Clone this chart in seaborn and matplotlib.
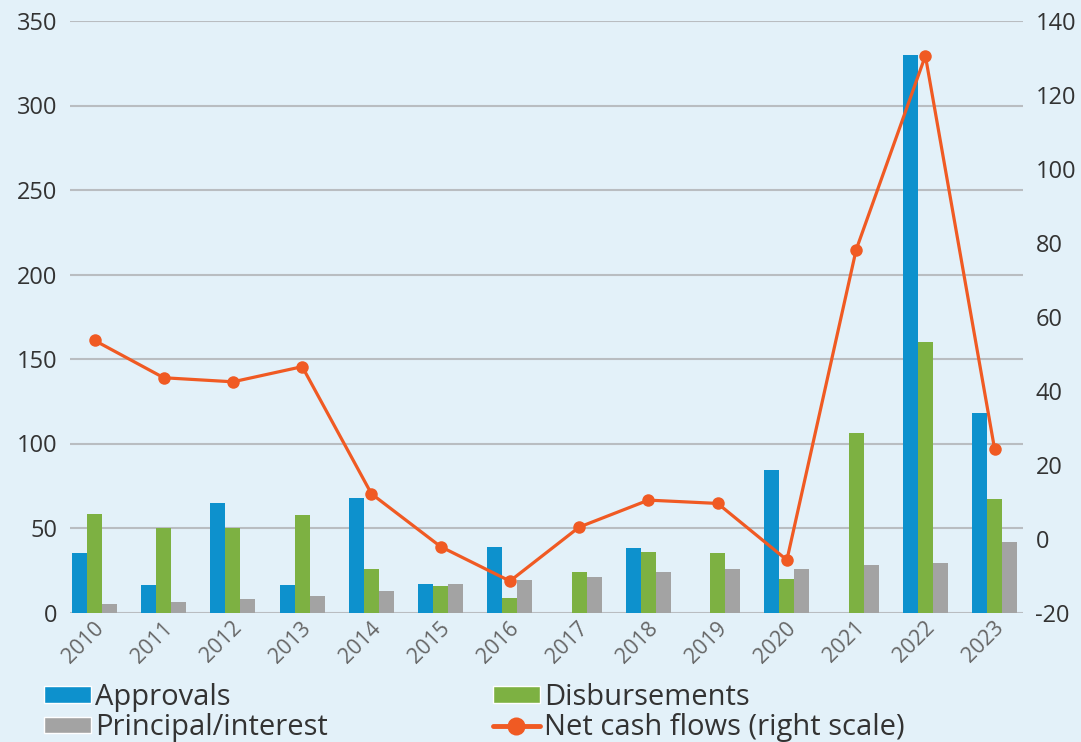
import numpy as np
import pandas as pd
import matplotlib
matplotlib.use("Agg")
import matplotlib.pyplot as plt
import matplotlib.transforms as mtransforms
import seaborn as sns
from matplotlib.patches import Patch
from matplotlib.lines import Line2D

# ---- data ----
years = [str(y) for y in range(2010, 2024)]
approvals = [35, 16, 64.5, 16.5, 68, 17, 39, np.nan, 38, np.nan, 84.5, np.nan, 330, 118]
disbursements = [58.5, 50, 50, 57.5, 25.5, 15.5, 8.5, 24, 36, 35.5, 20, 106, 160, 67]
principal = [5, 6, 8, 10, 12.5, 17, 19, 21, 24, 25.5, 25.5, 28, 29.5, 42]
net_cash = [53.6, 43.5, 42.4, 46.5, 12.1, -2.2, -11.5, 3.1, 10.4, 9.5, -5.8, 78.1, 130.6, 24.2]

series_names = ["Approvals", "Disbursements", "Principal/interest"]
net_label = "Net cash flows (right scale)"
left_ticks = [0, 50, 100, 150, 200, 250, 300, 350]
right_ticks = [-20, 0, 20, 40, 60, 80, 100, 120, 140]

# ---- styling ----
BG = "#e3f1f9"
BLUE = "#0d91cd"
GREEN = "#7db142"
GRAY = "#a3a3a3"
ORANGE = "#f05a23"
GRID = "#b9bdc1"
TXT = "#333333"

sns.set_theme(style="white")
plt.rcParams["font.family"] = ["Open Sans", "DejaVu Sans"]
plt.rcParams["axes.unicode_minus"] = False

df = pd.DataFrame({
    "year": years * 3,
    "series": sum([[s] * len(years) for s in series_names], []),
    "value": approvals + disbursements + principal,
})

W, H = 1081, 742
fig = plt.figure(figsize=(W / 100, H / 100), dpi=100, facecolor=BG)
ax = fig.add_axes([70 / W, (H - 612.5) / H, (1023 - 70) / W, (612.5 - 21) / H])
ax.set_facecolor(BG)

palette = {"Approvals": BLUE, "Disbursements": GREEN, "Principal/interest": GRAY}
sns.barplot(data=df, x="year", y="value", hue="series", hue_order=series_names,
            order=years, palette=palette, width=0.65, gap=0, saturation=1,
            legend=False, ax=ax, linewidth=0)

ax.set_ylim(0, 350)
ax.set_yticks(left_ticks)
ax.set_xlim(-0.354, 13.41)
ax.set_axisbelow(True)
ax.yaxis.grid(True, color=GRID, linewidth=1.5)
ax.xaxis.grid(False)
for s in ax.spines.values():
    s.set_visible(False)
ax.set_xlabel("")
ax.set_ylabel("")
ax.tick_params(axis="y", length=0, pad=9, labelsize=17, labelcolor=TXT)
ax.tick_params(axis="x", length=0, pad=9, labelsize=15.5, labelcolor="#666666")
shift = mtransforms.ScaledTranslation(0.06, 0, fig.dpi_scale_trans)
for lab in ax.get_xticklabels():
    lab.set_rotation(45)
    lab.set_ha("right")
    lab.set_va("center")
    lab.set_rotation_mode("anchor")
    lab.set_transform(lab.get_transform() + shift)

ax2 = ax.twinx()
sns.lineplot(x=np.arange(len(years)), y=net_cash, ax=ax2, color=ORANGE,
             linewidth=2.3, marker="o", markersize=9, markeredgewidth=0)
ax2.set_ylim(-20, 140)
ax2.set_yticks(right_ticks)
ax2.grid(False)
for s in ax2.spines.values():
    s.set_visible(False)
ax2.tick_params(axis="y", length=0, pad=9, labelsize=17, labelcolor=TXT)
ax2.set_xlim(-0.354, 13.41)

# ---- legend: two columns ----
leg_kw = dict(loc="upper left", frameon=False, fontsize=21, handlelength=1.6,
              handleheight=0.5, handletextpad=0.15, labelspacing=0.05,
              borderpad=0, borderaxespad=0, labelcolor=TXT)
h1 = [Patch(facecolor=BLUE, label="Approvals"),
      Patch(facecolor=GRAY, label="Principal/interest")]
h2 = [Patch(facecolor=GREEN, label="Disbursements"),
      Line2D([0], [0], color=ORANGE, lw=3.5, marker="o", markersize=13,
             markeredgewidth=0, label=net_label)]
fig.legend(handles=h1, bbox_to_anchor=(44 / W, 1 - 683 / H), **leg_kw)
fig.legend(handles=h2, bbox_to_anchor=(493 / W, 1 - 683 / H), **leg_kw)

fig.savefig("out.png", dpi=100, facecolor=BG)
